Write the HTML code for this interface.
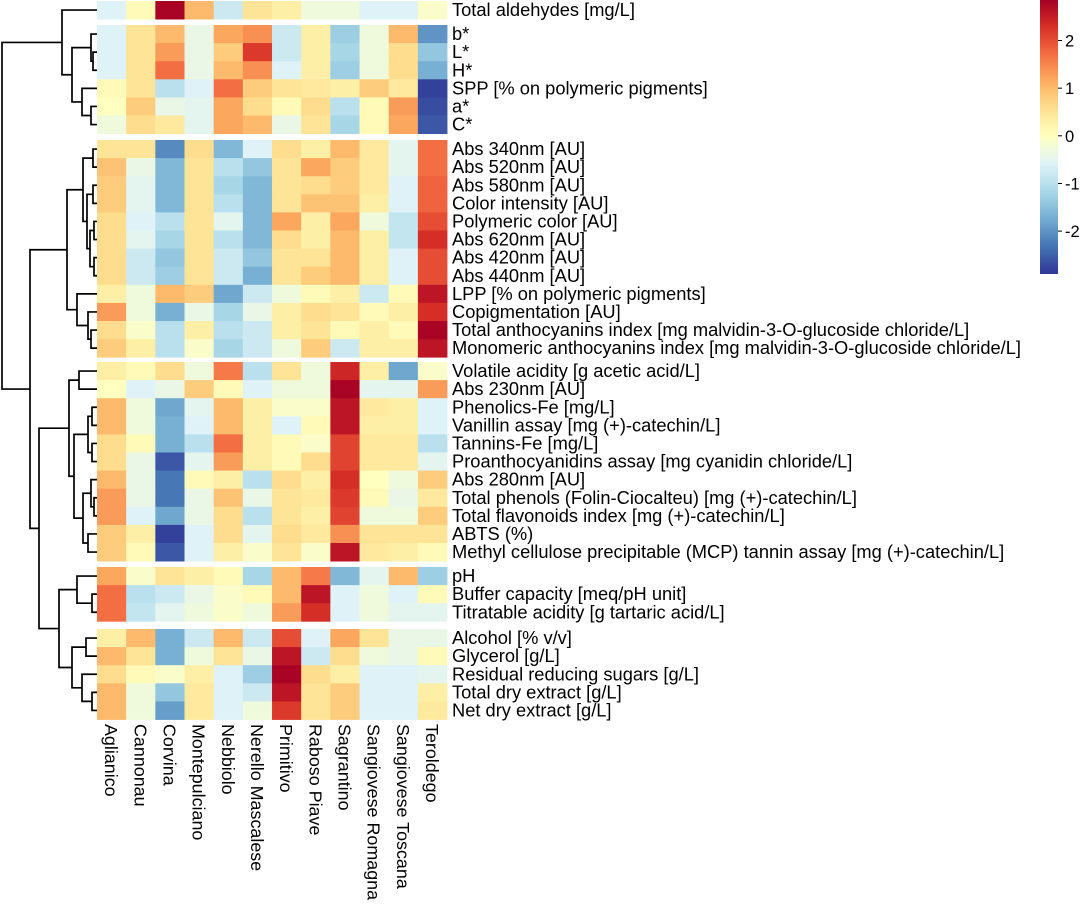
<!DOCTYPE html>
<html><head><meta charset="utf-8"><style>
body{margin:0;background:#fff;width:1080px;height:905px;overflow:hidden;font-family:"Liberation Sans",sans-serif}
svg text{font-family:"Liberation Sans",sans-serif;fill:#000}
</style></head><body>
<svg id="chart" width="1080" height="905" xmlns="http://www.w3.org/2000/svg"></svg>
<script>
const columns=["Aglianico","Cannonau","Corvina","Montepulciano","Nebbiolo","Nerello Mascalese","Primitivo","Raboso Piave","Sagrantino","Sangiovese Romagna","Sangiovese Toscana","Teroldego"];
const rowLabels=["Total aldehydes [mg/L]","b*","L*","H*","SPP [% on polymeric pigments]","a*","C*",
"Abs 340nm [AU]","Abs 520nm [AU]","Abs 580nm [AU]","Color intensity [AU]","Polymeric color [AU]","Abs 620nm [AU]","Abs 420nm [AU]","Abs 440nm [AU]","LPP [% on polymeric pigments]","Copigmentation [AU]","Total anthocyanins index [mg malvidin-3-O-glucoside chloride/L]","Monomeric anthocyanins index [mg malvidin-3-O-glucoside chloride/L]",
"Volatile acidity [g acetic acid/L]","Abs 230nm [AU]","Phenolics-Fe [mg/L]","Vanillin assay [mg (+)-catechin/L]","Tannins-Fe [mg/L]","Proanthocyanidins assay [mg cyanidin chloride/L]","Abs 280nm [AU]","Total phenols (Folin-Ciocalteu) [mg (+)-catechin/L]","Total flavonoids index [mg (+)-catechin/L]","ABTS (%)","Methyl cellulose precipitable (MCP) tannin assay [mg (+)-catechin/L]",
"pH","Buffer capacity [meq/pH unit]","Titratable acidity [g tartaric acid/L]",
"Alcohol [% v/v]","Glycerol [g/L]","Residual reducing sugars [g/L]","Total dry extract [g/L]","Net dry extract [g/L]"];
const values=[
[-0.6,0.1,2.8,1.0,-0.8,0.5,0.3,-0.3,-0.3,-0.6,-0.6,-0.1],
[-0.6,0.5,1.0,-0.4,1.2,1.4,-0.8,0.3,-1.3,-0.3,1.0,-2.0],
[-0.6,0.5,1.3,-0.4,0.8,2.2,-0.8,0.3,-1.2,-0.3,0.6,-1.4],
[-0.6,0.5,1.7,-0.4,1.0,1.4,-0.6,0.3,-1.3,-0.3,0.6,-1.7],
[0.1,0.5,-1.0,-0.6,1.7,0.8,0.5,0.4,0.3,0.8,0.4,-2.8],
[0.0,0.8,-0.4,-0.5,1.2,0.6,0.1,0.6,-1.0,0.1,1.3,-2.7],
[-0.3,0.6,0.4,-0.5,1.2,1.0,-0.4,0.5,-1.2,0.1,1.2,-2.6],
[0.5,0.5,-2.1,0.6,-1.6,-0.6,0.6,0.3,1.0,0.4,-0.5,1.7],
[0.9,-0.4,-1.6,0.5,-1.0,-1.4,0.5,1.2,0.8,0.4,-0.5,1.7],
[0.8,-0.5,-1.6,0.5,-1.2,-1.6,0.5,0.6,0.8,0.4,-0.6,1.8],
[0.8,-0.5,-1.6,0.5,-1.0,-1.6,0.5,0.9,0.9,0.3,-0.6,1.8],
[0.6,-0.6,-1.0,0.5,-0.5,-1.6,1.2,0.3,1.2,-0.3,-0.9,2.0],
[0.6,-0.5,-1.2,0.5,-1.0,-1.6,0.6,0.3,1.0,0.3,-0.9,2.3],
[0.6,-0.8,-1.4,0.5,-0.8,-1.4,0.5,0.5,1.0,0.3,-0.6,2.0],
[0.6,-0.8,-1.3,0.5,-0.8,-1.7,0.5,0.8,1.0,0.3,-0.6,2.0],
[0.3,-0.3,1.0,0.8,-1.8,-0.8,-0.3,0.1,0.3,-0.8,0.1,2.6],
[1.3,-0.3,-1.7,-0.4,-1.2,-0.4,0.3,0.6,0.5,0.1,0.3,2.3],
[0.6,-0.1,-1.0,0.3,-1.0,-0.8,0.3,0.5,0.1,0.3,0.1,2.8],
[0.8,0.3,-1.0,-0.1,-1.2,-0.8,-0.3,0.8,-0.8,0.3,0.3,2.6],
[0.3,0.1,0.6,-0.3,1.6,-1.0,0.5,-0.3,2.4,0.3,-1.8,-0.1],
[0.0,-0.6,-0.4,0.8,0.1,-0.6,-0.3,-0.3,2.8,-0.5,-0.5,1.3],
[1.0,-0.3,-1.8,-0.5,1.0,0.3,-0.1,-0.1,2.6,0.4,0.3,-0.6],
[1.0,-0.3,-1.7,-0.6,1.0,0.3,-0.6,0.1,2.6,0.3,0.3,-0.6],
[0.6,0.1,-1.7,-1.0,1.7,0.3,0.1,-0.1,2.1,0.4,0.4,-1.0],
[0.6,-0.4,-2.6,-0.5,1.3,0.3,0.1,0.6,2.1,0.4,0.4,-0.5],
[1.0,-0.4,-2.3,0.1,0.3,-1.0,0.6,0.3,2.3,0.0,-0.3,0.8],
[1.3,-0.4,-2.3,-0.4,0.9,-0.4,0.5,0.4,2.2,0.1,-0.4,0.4],
[1.3,-0.6,-1.8,-0.4,0.6,-1.0,0.5,0.3,2.1,-0.3,-0.3,0.8],
[0.8,0.3,-2.8,-0.6,0.6,-0.5,0.6,0.4,1.4,0.5,0.5,0.5],
[0.8,0.1,-2.6,-0.6,0.3,-0.1,0.5,-0.1,2.6,0.4,0.3,0.1],
[1.2,-0.1,0.5,0.3,0.1,-1.2,1.0,1.6,-1.6,-0.5,1.0,-1.3],
[1.7,-1.0,-0.8,-0.4,-0.1,0.1,1.0,2.6,-0.6,-0.3,-0.6,0.1],
[1.7,-0.9,-0.5,-0.3,-0.1,-0.3,1.3,2.3,-0.6,-0.3,-0.5,-0.5],
[0.3,1.0,-1.7,-0.8,1.0,-0.8,2.0,-0.6,1.2,0.5,-0.4,-0.4],
[1.0,0.5,-1.7,-0.3,0.5,-0.4,2.6,-0.8,0.6,-0.3,-0.4,0.1],
[0.6,0.1,-0.1,0.3,-0.6,-1.3,2.8,0.6,0.3,-0.6,-0.6,-0.5],
[1.0,-0.3,-1.4,0.4,-0.6,-0.8,2.6,0.5,0.8,-0.6,-0.6,0.3],
[1.0,-0.3,-1.9,0.4,-0.6,-0.3,2.2,0.5,0.8,-0.6,-0.6,0.4]];
const groupSizes=[1,6,12,11,3,5];
const colorTicks=[2,1,0,-1,-2];
// dendrogram: [height, left, right], leaves are row indices
const tree=[2,
 [62,0,[72,[91,1,[93,2,3]],[82,4,[91,5,6]]]],
 [30,
  [67,[83,[93,7,8],[87,[93,9,10],[90,[94,11,12],[94,13,14]]]],[77,15,[88,16,[91,17,18]]]],
  [39,
   [69,[79,19,20],[74,[88,[92,21,22],[92,23,24]],[83,[91,25,[94,26,27]],[88,28,29]]]],
   [59,[77,30,[92,31,32]],[72,[86,33,34],[82,35,[92,36,37]]]]]]];

const NS="http://www.w3.org/2000/svg";
const svg=document.getElementById('chart');
function mk(t,a){const e=document.createElementNS(NS,t);for(const k in a)e.setAttribute(k,a[k]);svg.appendChild(e);return e;}
const X0=97,CW=29.17,RH=18.1,groupTops=[1,25,140,362,567,629];
const rowTop=[];{let r=0;groupSizes.forEach((n,g)=>{for(let i=0;i<n;i++)rowTop[r++]=groupTops[g]+i*RH;});}
const yC=i=>rowTop[i]+RH/2;
const stops=["#313695","#4575b4","#74add1","#abd9e9","#e0f3f8","#ffffbf","#fee090","#fdae61","#f46d43","#d73027","#a50026"];
const VMIN=-2.9,VMAX=2.85;
function hex(h){return[1,3,5].map(i=>parseInt(h.substr(i,2),16));}
function col(v){
 let u=v<0?0.5*(v-VMIN)/(0-VMIN):0.5+0.5*v/VMAX;u=Math.max(0,Math.min(1,u));
 const p=u*10,i=Math.min(9,Math.floor(p)),f=p-i,a=hex(stops[i]),b=hex(stops[i+1]);
 return`rgb(${a.map((x,k)=>Math.round(x+(b[k]-x)*f)).join(',')})`;}
values.forEach((row,r)=>row.forEach((v,c)=>{
 const e=mk('rect',{x:X0+c*CW,y:rowTop[r],width:CW+0.4,height:RH+0.4,fill:col(v)});
 
 
}));
rowLabels.forEach((l,r)=>{const t=mk('text',{x:452,y:yC(r)+6,'font-size':18.3});t.textContent=l;
 
 });
columns.forEach((l,c)=>{const cx=X0+(c+0.5)*CW;const t=mk('text',{x:0,y:0,'font-size':17.9,transform:`translate(${cx-6.5},724) rotate(90)`});t.textContent=l;
 
 });
let d='';
function walk(n){if(typeof n==='number')return{x:X0,y:yC(n)};
 const [h,a,b]=n;const A=walk(a),B=walk(b);
 d+=`M${A.x},${A.y}H${h}V${B.y}H${B.x}`;return{x:h,y:(A.y+B.y)/2};}
walk(tree);
const dp=mk('path',{d:d,fill:'none',stroke:'#000','stroke-width':1.7});


const defs=mk('defs',{});const g=document.createElementNS(NS,'linearGradient');g.setAttribute('id','cb');g.setAttribute('x1',0);g.setAttribute('y1',1);g.setAttribute('x2',0);g.setAttribute('y2',0);defs.appendChild(g);
for(let k=0;k<=40;k++){const v=VMIN+(VMAX-VMIN)*k/40;const s=document.createElementNS(NS,'stop');s.setAttribute('offset',k/40);s.setAttribute('stop-color',col(v));g.appendChild(s);}
const CB_T=0,CB_B=274;const cbY=v=>CB_T+(VMAX-v)/(VMAX-VMIN)*(CB_B-CB_T);
const cb=mk('rect',{x:1040,y:CB_T,width:18,height:CB_B-CB_T,fill:'url(#cb)'});


colorTicks.forEach(v=>{const y=cbY(v);mk('line',{x1:1058,x2:1062,y1:y,y2:y,stroke:'#000'});
 const t=mk('text',{x:1065,y:y+6,'font-size':16.5});t.textContent=v;
 
 });
</script>
</body></html>
